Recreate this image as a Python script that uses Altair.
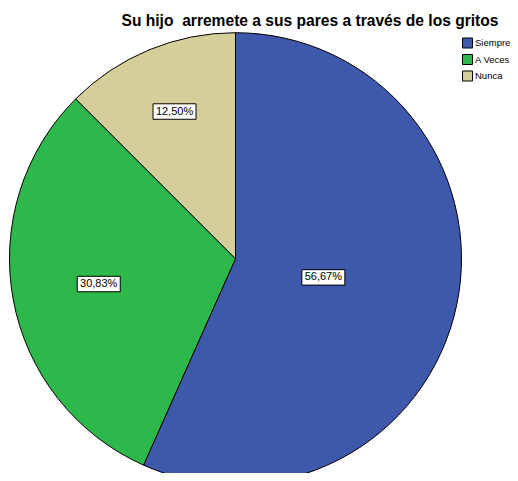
import altair as alt
import pandas as pd

categories = ["Siempre", "A Veces", "Nunca"]
percents = [56.67, 30.83, 12.50]
colors = ["#3E58AC", "#2DB84B", "#D4CE98"]
title_text = "Su hijo \u00a0arremete a sus pares a través de los gritos"

df = pd.DataFrame({"cat": categories, "pct": percents, "idx": list(range(len(categories)))})

CX, CY, R = 227.5, 250.7, 226

base = alt.Chart(df)

color_scale = alt.Scale(domain=categories, range=colors)

pie = base.mark_arc(stroke="black", strokeWidth=1).encode(
    theta=alt.Theta("pct:Q", stack=True),
    order=alt.Order("idx:Q"),
    color=alt.Color(
        "cat:N",
        scale=color_scale,
        sort=categories,
        legend=alt.Legend(
            title=None,
            orient="none",
            legendX=454,
            legendY=29.5,
            symbolType="square",
            symbolSize=100,
            symbolStrokeColor="black",
            symbolStrokeWidth=1,
            symbolOpacity=1,
            labelFont="Liberation Sans",
            labelFontSize=9.5,
            labelColor="black",
            labelOffset=2,
            rowPadding=1.5,
        ),
    ),
    x=alt.value(CX),
    y=alt.value(CY),
    radius=alt.value(R),
)

labels_base = base.transform_window(
    cum="sum(pct)", sort=[alt.SortField("idx")], frame=[None, 0]
).transform_joinaggregate(
    total="sum(pct)"
).transform_calculate(
    a1="datum.cum / datum.total * 2 * PI",
    a0="(datum.cum - datum.pct) / datum.total * 2 * PI",
).transform_calculate(
    mid="(datum.a0 + datum.a1) / 2",
    half="(datum.a1 - datum.a0) / 2",
).transform_calculate(
    rl=f"1.085 * 2 * {R} * sin(datum.half) / (3 * datum.half)",
).transform_calculate(
    lx=f"{CX} + datum.rl * sin(datum.mid)",
    ly=f"{CY} - datum.rl * cos(datum.mid)",
    lab="replace(format(datum.pct, '.2f'), '.', ',') + '%'",
)

boxes = labels_base.mark_point(
    shape="M -1 -0.36 H 1 V 0.36 H -1 Z",
    filled=True,
    fill="white",
    stroke="black",
    strokeWidth=1,
    opacity=1,
    size=43 * 43,
).encode(
    x=alt.X("lx:Q", scale=None),
    y=alt.Y("ly:Q", scale=None),
)

texts = labels_base.mark_text(
    font="Liberation Sans", fontSize=11, color="black", align="center", baseline="middle"
).encode(
    x=alt.X("lx:Q", scale=None),
    y=alt.Y("ly:Q", scale=None),
    text="lab:N",
)

title = alt.Chart(pd.DataFrame({"t": [title_text]})).mark_text(
    font="Liberation Sans", fontSize=15.6, fontWeight="bold", color="black",
    align="center", baseline="alphabetic"
).encode(text="t:N", x=alt.value(302), y=alt.value(17.7))

chart = alt.layer(pie, boxes, texts, title).properties(
    width=502, height=465, padding=0,
    autosize=alt.AutoSizeParams(type="none"),
).configure_view(stroke=None)

chart.save("out.html", embed_options={"renderer": "svg", "actions": False})
